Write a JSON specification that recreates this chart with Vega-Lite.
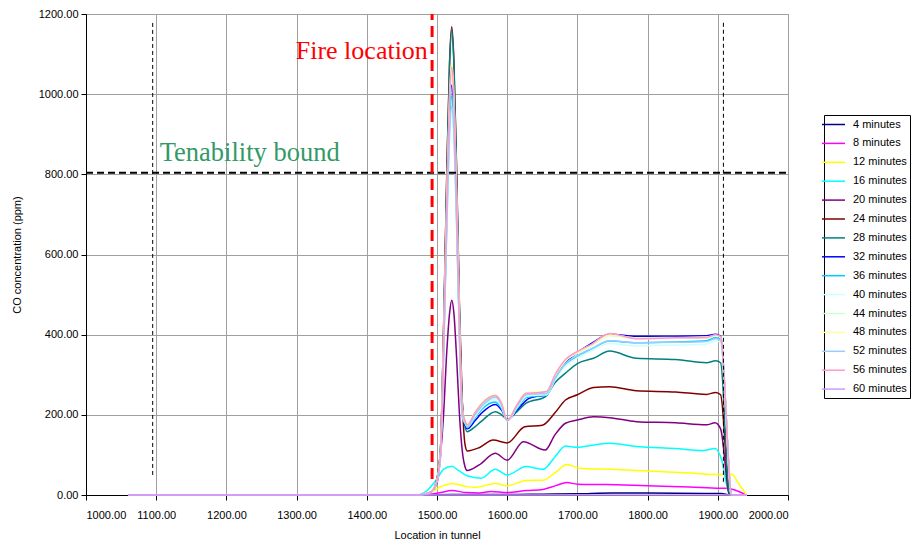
{
"$schema": "https://vega.github.io/schema/vega-lite/v6.json",
"width": 702, "height": 481,
"autosize": {"type": "none"},
"padding": {"left": 86, "top": 14, "right": 130, "bottom": 49},
"background": "white",
"config": {
  "font": "Liberation Sans",
  "view": {"stroke": "#808080", "strokeWidth": 1},
  "axis": {"labelFont": "Liberation Sans", "labelFontSize": 11, "labelColor": "#000", "titleFont": "Liberation Sans", "titleFontSize": 11, "titleFontWeight": "normal", "titleColor": "#000", "domainColor": "#000", "tickColor": "#000", "gridColor": "#a0a0a0", "gridWidth": 1, "tickSize": 5}
},
"layer": [
{
"data": {"values": [
{"s":"4 minutes","x":1060,"y":0},{"s":"4 minutes","x":1480,"y":0},{"s":"4 minutes","x":1520,"y":1},{"s":"4 minutes","x":1600,"y":1},{"s":"4 minutes","x":1650,"y":2},{"s":"4 minutes","x":1700,"y":3},{"s":"4 minutes","x":1750,"y":5},{"s":"4 minutes","x":1800,"y":5},{"s":"4 minutes","x":1880,"y":4},{"s":"4 minutes","x":1905,"y":4},{"s":"4 minutes","x":1917,"y":0},{"s":"4 minutes","x":1941,"y":0},
{"s":"8 minutes","x":1060,"y":0},{"s":"8 minutes","x":1470,"y":0},{"s":"8 minutes","x":1490,"y":2},{"s":"8 minutes","x":1505,"y":6},{"s":"8 minutes","x":1521,"y":11},{"s":"8 minutes","x":1542,"y":6},{"s":"8 minutes","x":1560,"y":5},{"s":"8 minutes","x":1577,"y":9},{"s":"8 minutes","x":1600,"y":6},{"s":"8 minutes","x":1627,"y":11},{"s":"8 minutes","x":1651,"y":14},{"s":"8 minutes","x":1670,"y":24},{"s":"8 minutes","x":1685,"y":31},{"s":"8 minutes","x":1700,"y":27},{"s":"8 minutes","x":1742,"y":26},{"s":"8 minutes","x":1800,"y":23},{"s":"8 minutes","x":1860,"y":20},{"s":"8 minutes","x":1903,"y":17},{"s":"8 minutes","x":1913,"y":17},{"s":"8 minutes","x":1925,"y":12},{"s":"8 minutes","x":1941,"y":0},
{"s":"12 minutes","x":1060,"y":0},{"s":"12 minutes","x":1470,"y":0},{"s":"12 minutes","x":1488,"y":4},{"s":"12 minutes","x":1505,"y":20},{"s":"12 minutes","x":1521,"y":29},{"s":"12 minutes","x":1542,"y":21},{"s":"12 minutes","x":1554,"y":19},{"s":"12 minutes","x":1583,"y":29},{"s":"12 minutes","x":1600,"y":23},{"s":"12 minutes","x":1627,"y":36},{"s":"12 minutes","x":1651,"y":37},{"s":"12 minutes","x":1670,"y":58},{"s":"12 minutes","x":1685,"y":76},{"s":"12 minutes","x":1704,"y":67},{"s":"12 minutes","x":1746,"y":64},{"s":"12 minutes","x":1800,"y":60},{"s":"12 minutes","x":1860,"y":55},{"s":"12 minutes","x":1903,"y":51},{"s":"12 minutes","x":1920,"y":52},{"s":"12 minutes","x":1929,"y":30},{"s":"12 minutes","x":1941,"y":0},
{"s":"16 minutes","x":1060,"y":0},{"s":"16 minutes","x":1470,"y":0},{"s":"16 minutes","x":1485,"y":10},{"s":"16 minutes","x":1500,"y":40},{"s":"16 minutes","x":1510,"y":65},{"s":"16 minutes","x":1521,"y":72},{"s":"16 minutes","x":1530,"y":62},{"s":"16 minutes","x":1543,"y":48},{"s":"16 minutes","x":1563,"y":42},{"s":"16 minutes","x":1583,"y":64},{"s":"16 minutes","x":1600,"y":50},{"s":"16 minutes","x":1627,"y":71},{"s":"16 minutes","x":1651,"y":64},{"s":"16 minutes","x":1668,"y":95},{"s":"16 minutes","x":1683,"y":122},{"s":"16 minutes","x":1700,"y":119},{"s":"16 minutes","x":1723,"y":125},{"s":"16 minutes","x":1746,"y":129},{"s":"16 minutes","x":1784,"y":121},{"s":"16 minutes","x":1840,"y":116},{"s":"16 minutes","x":1879,"y":111},{"s":"16 minutes","x":1896,"y":116},{"s":"16 minutes","x":1905,"y":91},{"s":"16 minutes","x":1917,"y":0},{"s":"16 minutes","x":1941,"y":0},
{"s":"20 minutes","x":1060,"y":0},{"s":"20 minutes","x":1470,"y":0},{"s":"20 minutes","x":1485,"y":3},{"s":"20 minutes","x":1493,"y":10},{"s":"20 minutes","x":1500,"y":30},{"s":"20 minutes","x":1505,"y":100},{"s":"20 minutes","x":1509,"y":190},{"s":"20 minutes","x":1514,"y":360},{"s":"20 minutes","x":1518,"y":455},{"s":"20 minutes","x":1521,"y":486},{"s":"20 minutes","x":1524,"y":455},{"s":"20 minutes","x":1528,"y":340},{"s":"20 minutes","x":1532,"y":200},{"s":"20 minutes","x":1536,"y":110},{"s":"20 minutes","x":1540,"y":70},{"s":"20 minutes","x":1543,"y":61},{"s":"20 minutes","x":1560,"y":75},{"s":"20 minutes","x":1583,"y":104},{"s":"20 minutes","x":1600,"y":87},{"s":"20 minutes","x":1623,"y":133},{"s":"20 minutes","x":1654,"y":112},{"s":"20 minutes","x":1668,"y":150},{"s":"20 minutes","x":1683,"y":179},{"s":"20 minutes","x":1700,"y":187},{"s":"20 minutes","x":1723,"y":195},{"s":"20 minutes","x":1746,"y":193},{"s":"20 minutes","x":1784,"y":183},{"s":"20 minutes","x":1840,"y":180},{"s":"20 minutes","x":1884,"y":175},{"s":"20 minutes","x":1896,"y":180},{"s":"20 minutes","x":1904,"y":165},{"s":"20 minutes","x":1917,"y":0},{"s":"20 minutes","x":1941,"y":0},
{"s":"24 minutes","x":1060,"y":0},{"s":"24 minutes","x":1470,"y":0},{"s":"24 minutes","x":1485,"y":3},{"s":"24 minutes","x":1493,"y":10},{"s":"24 minutes","x":1500,"y":41},{"s":"24 minutes","x":1505,"y":117},{"s":"24 minutes","x":1509,"y":385},{"s":"24 minutes","x":1514,"y":806},{"s":"24 minutes","x":1518,"y":1086},{"s":"24 minutes","x":1521,"y":1168},{"s":"24 minutes","x":1524,"y":1086},{"s":"24 minutes","x":1528,"y":806},{"s":"24 minutes","x":1532,"y":467},{"s":"24 minutes","x":1536,"y":234},{"s":"24 minutes","x":1540,"y":125},{"s":"24 minutes","x":1543,"y":110},{"s":"24 minutes","x":1560,"y":118},{"s":"24 minutes","x":1580,"y":137},{"s":"24 minutes","x":1600,"y":130},{"s":"24 minutes","x":1625,"y":170},{"s":"24 minutes","x":1650,"y":174},{"s":"24 minutes","x":1668,"y":205},{"s":"24 minutes","x":1683,"y":237},{"s":"24 minutes","x":1700,"y":250},{"s":"24 minutes","x":1723,"y":268},{"s":"24 minutes","x":1746,"y":270},{"s":"24 minutes","x":1784,"y":260},{"s":"24 minutes","x":1840,"y":257},{"s":"24 minutes","x":1884,"y":251},{"s":"24 minutes","x":1897,"y":256},{"s":"24 minutes","x":1904,"y":250},{"s":"24 minutes","x":1917,"y":0},{"s":"24 minutes","x":1941,"y":0},
{"s":"28 minutes","x":1060,"y":0},{"s":"28 minutes","x":1470,"y":0},{"s":"28 minutes","x":1485,"y":3},{"s":"28 minutes","x":1493,"y":10},{"s":"28 minutes","x":1500,"y":41},{"s":"28 minutes","x":1505,"y":116},{"s":"28 minutes","x":1509,"y":383},{"s":"28 minutes","x":1514,"y":800},{"s":"28 minutes","x":1518,"y":1079},{"s":"28 minutes","x":1521,"y":1160},{"s":"28 minutes","x":1524,"y":1079},{"s":"28 minutes","x":1528,"y":800},{"s":"28 minutes","x":1532,"y":464},{"s":"28 minutes","x":1536,"y":232},{"s":"28 minutes","x":1540,"y":170},{"s":"28 minutes","x":1543,"y":158},{"s":"28 minutes","x":1554,"y":170},{"s":"28 minutes","x":1564,"y":185},{"s":"28 minutes","x":1583,"y":208},{"s":"28 minutes","x":1592,"y":200},{"s":"28 minutes","x":1600,"y":189},{"s":"28 minutes","x":1614,"y":208},{"s":"28 minutes","x":1627,"y":229},{"s":"28 minutes","x":1654,"y":245},{"s":"28 minutes","x":1668,"y":280},{"s":"28 minutes","x":1683,"y":304},{"s":"28 minutes","x":1700,"y":328},{"s":"28 minutes","x":1723,"y":341},{"s":"28 minutes","x":1746,"y":359},{"s":"28 minutes","x":1784,"y":341},{"s":"28 minutes","x":1840,"y":338},{"s":"28 minutes","x":1884,"y":330},{"s":"28 minutes","x":1897,"y":335},{"s":"28 minutes","x":1904,"y":330},{"s":"28 minutes","x":1917,"y":0},{"s":"28 minutes","x":1941,"y":0},
{"s":"32 minutes","x":1060,"y":0},{"s":"32 minutes","x":1470,"y":0},{"s":"32 minutes","x":1485,"y":3},{"s":"32 minutes","x":1493,"y":10},{"s":"32 minutes","x":1500,"y":36},{"s":"32 minutes","x":1505,"y":102},{"s":"32 minutes","x":1509,"y":338},{"s":"32 minutes","x":1514,"y":706},{"s":"32 minutes","x":1518,"y":951},{"s":"32 minutes","x":1521,"y":1023},{"s":"32 minutes","x":1524,"y":951},{"s":"32 minutes","x":1528,"y":706},{"s":"32 minutes","x":1532,"y":409},{"s":"32 minutes","x":1536,"y":205},{"s":"32 minutes","x":1540,"y":175},{"s":"32 minutes","x":1543,"y":165},{"s":"32 minutes","x":1554,"y":185},{"s":"32 minutes","x":1564,"y":205},{"s":"32 minutes","x":1583,"y":226},{"s":"32 minutes","x":1592,"y":212},{"s":"32 minutes","x":1600,"y":188},{"s":"32 minutes","x":1614,"y":212},{"s":"32 minutes","x":1631,"y":241},{"s":"32 minutes","x":1645,"y":247},{"s":"32 minutes","x":1656,"y":249},{"s":"32 minutes","x":1668,"y":293},{"s":"32 minutes","x":1683,"y":330},{"s":"32 minutes","x":1700,"y":355},{"s":"32 minutes","x":1720,"y":378},{"s":"32 minutes","x":1746,"y":401},{"s":"32 minutes","x":1784,"y":396},{"s":"32 minutes","x":1840,"y":396},{"s":"32 minutes","x":1884,"y":397},{"s":"32 minutes","x":1897,"y":401},{"s":"32 minutes","x":1904,"y":396},{"s":"32 minutes","x":1920,"y":0},{"s":"32 minutes","x":1941,"y":0},
{"s":"36 minutes","x":1060,"y":0},{"s":"36 minutes","x":1470,"y":0},{"s":"36 minutes","x":1485,"y":3},{"s":"36 minutes","x":1493,"y":10},{"s":"36 minutes","x":1500,"y":35},{"s":"36 minutes","x":1505,"y":100},{"s":"36 minutes","x":1509,"y":328},{"s":"36 minutes","x":1514,"y":687},{"s":"36 minutes","x":1518,"y":925},{"s":"36 minutes","x":1521,"y":995},{"s":"36 minutes","x":1524,"y":925},{"s":"36 minutes","x":1528,"y":687},{"s":"36 minutes","x":1532,"y":398},{"s":"36 minutes","x":1536,"y":199},{"s":"36 minutes","x":1540,"y":178},{"s":"36 minutes","x":1543,"y":168},{"s":"36 minutes","x":1554,"y":192},{"s":"36 minutes","x":1564,"y":214},{"s":"36 minutes","x":1583,"y":232},{"s":"36 minutes","x":1592,"y":215},{"s":"36 minutes","x":1600,"y":186},{"s":"36 minutes","x":1614,"y":215},{"s":"36 minutes","x":1627,"y":243},{"s":"36 minutes","x":1642,"y":247},{"s":"36 minutes","x":1656,"y":249},{"s":"36 minutes","x":1668,"y":288},{"s":"36 minutes","x":1683,"y":326},{"s":"36 minutes","x":1700,"y":346},{"s":"36 minutes","x":1720,"y":364},{"s":"36 minutes","x":1746,"y":384},{"s":"36 minutes","x":1784,"y":380},{"s":"36 minutes","x":1840,"y":382},{"s":"36 minutes","x":1884,"y":385},{"s":"36 minutes","x":1897,"y":392},{"s":"36 minutes","x":1904,"y":388},{"s":"36 minutes","x":1920,"y":0},{"s":"36 minutes","x":1941,"y":0},
{"s":"40 minutes","x":1060,"y":0},{"s":"40 minutes","x":1470,"y":0},{"s":"40 minutes","x":1485,"y":3},{"s":"40 minutes","x":1493,"y":10},{"s":"40 minutes","x":1500,"y":34},{"s":"40 minutes","x":1505,"y":97},{"s":"40 minutes","x":1509,"y":318},{"s":"40 minutes","x":1514,"y":666},{"s":"40 minutes","x":1518,"y":897},{"s":"40 minutes","x":1521,"y":965},{"s":"40 minutes","x":1524,"y":897},{"s":"40 minutes","x":1528,"y":666},{"s":"40 minutes","x":1532,"y":386},{"s":"40 minutes","x":1536,"y":193},{"s":"40 minutes","x":1540,"y":180},{"s":"40 minutes","x":1543,"y":170},{"s":"40 minutes","x":1554,"y":195},{"s":"40 minutes","x":1564,"y":218},{"s":"40 minutes","x":1583,"y":238},{"s":"40 minutes","x":1592,"y":220},{"s":"40 minutes","x":1600,"y":184},{"s":"40 minutes","x":1614,"y":218},{"s":"40 minutes","x":1627,"y":246},{"s":"40 minutes","x":1642,"y":249},{"s":"40 minutes","x":1656,"y":250},{"s":"40 minutes","x":1668,"y":286},{"s":"40 minutes","x":1683,"y":322},{"s":"40 minutes","x":1700,"y":342},{"s":"40 minutes","x":1720,"y":360},{"s":"40 minutes","x":1746,"y":378},{"s":"40 minutes","x":1784,"y":372},{"s":"40 minutes","x":1840,"y":374},{"s":"40 minutes","x":1884,"y":377},{"s":"40 minutes","x":1897,"y":384},{"s":"40 minutes","x":1904,"y":380},{"s":"40 minutes","x":1920,"y":0},{"s":"40 minutes","x":1941,"y":0},
{"s":"44 minutes","x":1060,"y":0},{"s":"44 minutes","x":1470,"y":0},{"s":"44 minutes","x":1485,"y":3},{"s":"44 minutes","x":1493,"y":10},{"s":"44 minutes","x":1500,"y":37},{"s":"44 minutes","x":1505,"y":105},{"s":"44 minutes","x":1509,"y":347},{"s":"44 minutes","x":1514,"y":725},{"s":"44 minutes","x":1518,"y":977},{"s":"44 minutes","x":1521,"y":1050},{"s":"44 minutes","x":1524,"y":977},{"s":"44 minutes","x":1528,"y":725},{"s":"44 minutes","x":1532,"y":420},{"s":"44 minutes","x":1536,"y":210},{"s":"44 minutes","x":1540,"y":182},{"s":"44 minutes","x":1543,"y":172},{"s":"44 minutes","x":1554,"y":203},{"s":"44 minutes","x":1564,"y":226},{"s":"44 minutes","x":1583,"y":246},{"s":"44 minutes","x":1592,"y":227},{"s":"44 minutes","x":1600,"y":186},{"s":"44 minutes","x":1614,"y":224},{"s":"44 minutes","x":1627,"y":252},{"s":"44 minutes","x":1642,"y":254},{"s":"44 minutes","x":1656,"y":256},{"s":"44 minutes","x":1668,"y":296},{"s":"44 minutes","x":1683,"y":334},{"s":"44 minutes","x":1700,"y":354},{"s":"44 minutes","x":1720,"y":372},{"s":"44 minutes","x":1746,"y":398},{"s":"44 minutes","x":1784,"y":390},{"s":"44 minutes","x":1840,"y":391},{"s":"44 minutes","x":1884,"y":392},{"s":"44 minutes","x":1897,"y":397},{"s":"44 minutes","x":1904,"y":393},{"s":"44 minutes","x":1920,"y":0},{"s":"44 minutes","x":1941,"y":0},
{"s":"48 minutes","x":1060,"y":0},{"s":"48 minutes","x":1470,"y":0},{"s":"48 minutes","x":1485,"y":3},{"s":"48 minutes","x":1493,"y":10},{"s":"48 minutes","x":1500,"y":38},{"s":"48 minutes","x":1505,"y":108},{"s":"48 minutes","x":1509,"y":356},{"s":"48 minutes","x":1514,"y":744},{"s":"48 minutes","x":1518,"y":1003},{"s":"48 minutes","x":1521,"y":1078},{"s":"48 minutes","x":1524,"y":1003},{"s":"48 minutes","x":1528,"y":744},{"s":"48 minutes","x":1532,"y":431},{"s":"48 minutes","x":1536,"y":216},{"s":"48 minutes","x":1540,"y":185},{"s":"48 minutes","x":1543,"y":175},{"s":"48 minutes","x":1554,"y":207},{"s":"48 minutes","x":1564,"y":230},{"s":"48 minutes","x":1583,"y":250},{"s":"48 minutes","x":1592,"y":230},{"s":"48 minutes","x":1600,"y":187},{"s":"48 minutes","x":1614,"y":226},{"s":"48 minutes","x":1627,"y":255},{"s":"48 minutes","x":1642,"y":257},{"s":"48 minutes","x":1656,"y":258},{"s":"48 minutes","x":1668,"y":298},{"s":"48 minutes","x":1683,"y":336},{"s":"48 minutes","x":1700,"y":356},{"s":"48 minutes","x":1720,"y":374},{"s":"48 minutes","x":1746,"y":400},{"s":"48 minutes","x":1784,"y":392},{"s":"48 minutes","x":1840,"y":393},{"s":"48 minutes","x":1884,"y":394},{"s":"48 minutes","x":1897,"y":398},{"s":"48 minutes","x":1904,"y":394},{"s":"48 minutes","x":1920,"y":0},{"s":"48 minutes","x":1941,"y":0},
{"s":"52 minutes","x":1060,"y":0},{"s":"52 minutes","x":1470,"y":0},{"s":"52 minutes","x":1485,"y":3},{"s":"52 minutes","x":1493,"y":10},{"s":"52 minutes","x":1500,"y":34},{"s":"52 minutes","x":1505,"y":97},{"s":"52 minutes","x":1509,"y":320},{"s":"52 minutes","x":1514,"y":669},{"s":"52 minutes","x":1518,"y":902},{"s":"52 minutes","x":1521,"y":970},{"s":"52 minutes","x":1524,"y":902},{"s":"52 minutes","x":1528,"y":669},{"s":"52 minutes","x":1532,"y":388},{"s":"52 minutes","x":1536,"y":194},{"s":"52 minutes","x":1540,"y":182},{"s":"52 minutes","x":1543,"y":170},{"s":"52 minutes","x":1554,"y":200},{"s":"52 minutes","x":1564,"y":222},{"s":"52 minutes","x":1583,"y":244},{"s":"52 minutes","x":1592,"y":225},{"s":"52 minutes","x":1600,"y":185},{"s":"52 minutes","x":1614,"y":222},{"s":"52 minutes","x":1627,"y":250},{"s":"52 minutes","x":1642,"y":252},{"s":"52 minutes","x":1656,"y":253},{"s":"52 minutes","x":1668,"y":290},{"s":"52 minutes","x":1683,"y":328},{"s":"52 minutes","x":1700,"y":348},{"s":"52 minutes","x":1720,"y":365},{"s":"52 minutes","x":1746,"y":385},{"s":"52 minutes","x":1784,"y":380},{"s":"52 minutes","x":1840,"y":381},{"s":"52 minutes","x":1884,"y":383},{"s":"52 minutes","x":1897,"y":390},{"s":"52 minutes","x":1904,"y":386},{"s":"52 minutes","x":1920,"y":0},{"s":"52 minutes","x":1941,"y":0},
{"s":"56 minutes","x":1060,"y":0},{"s":"56 minutes","x":1470,"y":0},{"s":"56 minutes","x":1485,"y":3},{"s":"56 minutes","x":1493,"y":10},{"s":"56 minutes","x":1500,"y":37},{"s":"56 minutes","x":1505,"y":107},{"s":"56 minutes","x":1509,"y":352},{"s":"56 minutes","x":1514,"y":737},{"s":"56 minutes","x":1518,"y":993},{"s":"56 minutes","x":1521,"y":1068},{"s":"56 minutes","x":1524,"y":993},{"s":"56 minutes","x":1528,"y":737},{"s":"56 minutes","x":1532,"y":427},{"s":"56 minutes","x":1536,"y":214},{"s":"56 minutes","x":1540,"y":185},{"s":"56 minutes","x":1543,"y":175},{"s":"56 minutes","x":1554,"y":205},{"s":"56 minutes","x":1564,"y":228},{"s":"56 minutes","x":1583,"y":248},{"s":"56 minutes","x":1592,"y":228},{"s":"56 minutes","x":1600,"y":186},{"s":"56 minutes","x":1614,"y":225},{"s":"56 minutes","x":1627,"y":254},{"s":"56 minutes","x":1642,"y":255},{"s":"56 minutes","x":1656,"y":258},{"s":"56 minutes","x":1668,"y":300},{"s":"56 minutes","x":1683,"y":338},{"s":"56 minutes","x":1700,"y":358},{"s":"56 minutes","x":1720,"y":376},{"s":"56 minutes","x":1746,"y":403},{"s":"56 minutes","x":1784,"y":390},{"s":"56 minutes","x":1840,"y":392},{"s":"56 minutes","x":1884,"y":393},{"s":"56 minutes","x":1897,"y":400},{"s":"56 minutes","x":1904,"y":395},{"s":"56 minutes","x":1920,"y":0},{"s":"56 minutes","x":1941,"y":0},
{"s":"60 minutes","x":1060,"y":0},{"s":"60 minutes","x":1941,"y":0}
]},
"mark": {"type": "line", "interpolate": "monotone", "strokeWidth": 1.5},
"encoding": {
  "x": {"field": "x", "type": "quantitative", "scale": {"domain": [1000, 2000], "nice": false, "zero": false},
        "axis": {"values": [1000,1100,1200,1300,1400,1500,1600,1700,1800,1900,2000], "format": ".2f", "title": "Location in tunnel", "grid": true, "labelPadding": 9, "titlePadding": 9}},
  "y": {"field": "y", "type": "quantitative", "scale": {"domain": [0, 1200], "nice": false},
        "axis": {"values": [0,200,400,600,800,1000,1200], "format": ".2f", "title": "CO concentration (ppm)", "grid": true, "labelPadding": 3, "titlePadding": 16}},
  "color": {"field": "s", "type": "nominal",
    "scale": {"domain": ["4 minutes","8 minutes","12 minutes","16 minutes","20 minutes","24 minutes","28 minutes","32 minutes","36 minutes","40 minutes","44 minutes","48 minutes","52 minutes","56 minutes","60 minutes"],
              "range": ["#000080","#ff00ff","#ffff00","#00ffff","#800080","#800000","#008080","#0000ff","#00ccff","#ccffff","#ccffcc","#ffff99","#99ccff","#ff99cc","#cc99ff"]},
    "legend": {"title": null, "orient": "none", "legendX": 738, "legendY": 101, "strokeColor": "#000", "fillColor": "#fff", "padding": 3, "symbolType": "M-2,0H2", "symbolSize": 132, "symbolStrokeWidth": 1.5, "labelFontSize": 11, "labelFont": "Liberation Sans", "labelColor": "#000", "rowPadding": 6.9, "labelOffset": 13}}
}
},
{
"data": {"values": [{"x": 1000, "x2": 2000, "y": 804}]},
"mark": {"type": "rule", "color": "#000", "strokeWidth": 2, "strokeDash": [7, 4]},
"encoding": {"x": {"field": "x", "type": "quantitative"}, "x2": {"field": "x2"}, "y": {"field": "y", "type": "quantitative"}}
},
{
"data": {"values": [{"x": 1095, "y": 50, "y2": 1185}, {"x": 1908, "y": 33, "y2": 1185}]},
"mark": {"type": "rule", "color": "#000", "strokeWidth": 1, "strokeDash": [4, 3]},
"encoding": {"x": {"field": "x", "type": "quantitative"}, "y": {"field": "y", "type": "quantitative"}, "y2": {"field": "y2"}}
},
{
"data": {"values": [{"x": 1493, "y": 40, "y2": 1200}]},
"mark": {"type": "rule", "color": "#ff0000", "strokeWidth": 3, "strokeDash": [11, 6]},
"encoding": {"x": {"field": "x", "type": "quantitative"}, "y": {"field": "y", "type": "quantitative"}, "y2": {"field": "y2"}}
},
{
"data": {"values": [{"x": 1487, "y": 1087, "t": "Fire location"}]},
"mark": {"type": "text", "font": "Liberation Serif", "fontSize": 26, "color": "#ff0000", "align": "right", "baseline": "alphabetic"},
"encoding": {"x": {"field": "x", "type": "quantitative"}, "y": {"field": "y", "type": "quantitative"}, "text": {"field": "t"}}
},
{
"data": {"values": [{"x": 1105, "y": 833, "t": "Tenability bound"}]},
"mark": {"type": "text", "font": "Liberation Serif", "fontSize": 26.5, "color": "#339966", "align": "left", "baseline": "alphabetic"},
"encoding": {"x": {"field": "x", "type": "quantitative"}, "y": {"field": "y", "type": "quantitative"}, "text": {"field": "t"}}
}
]
}
